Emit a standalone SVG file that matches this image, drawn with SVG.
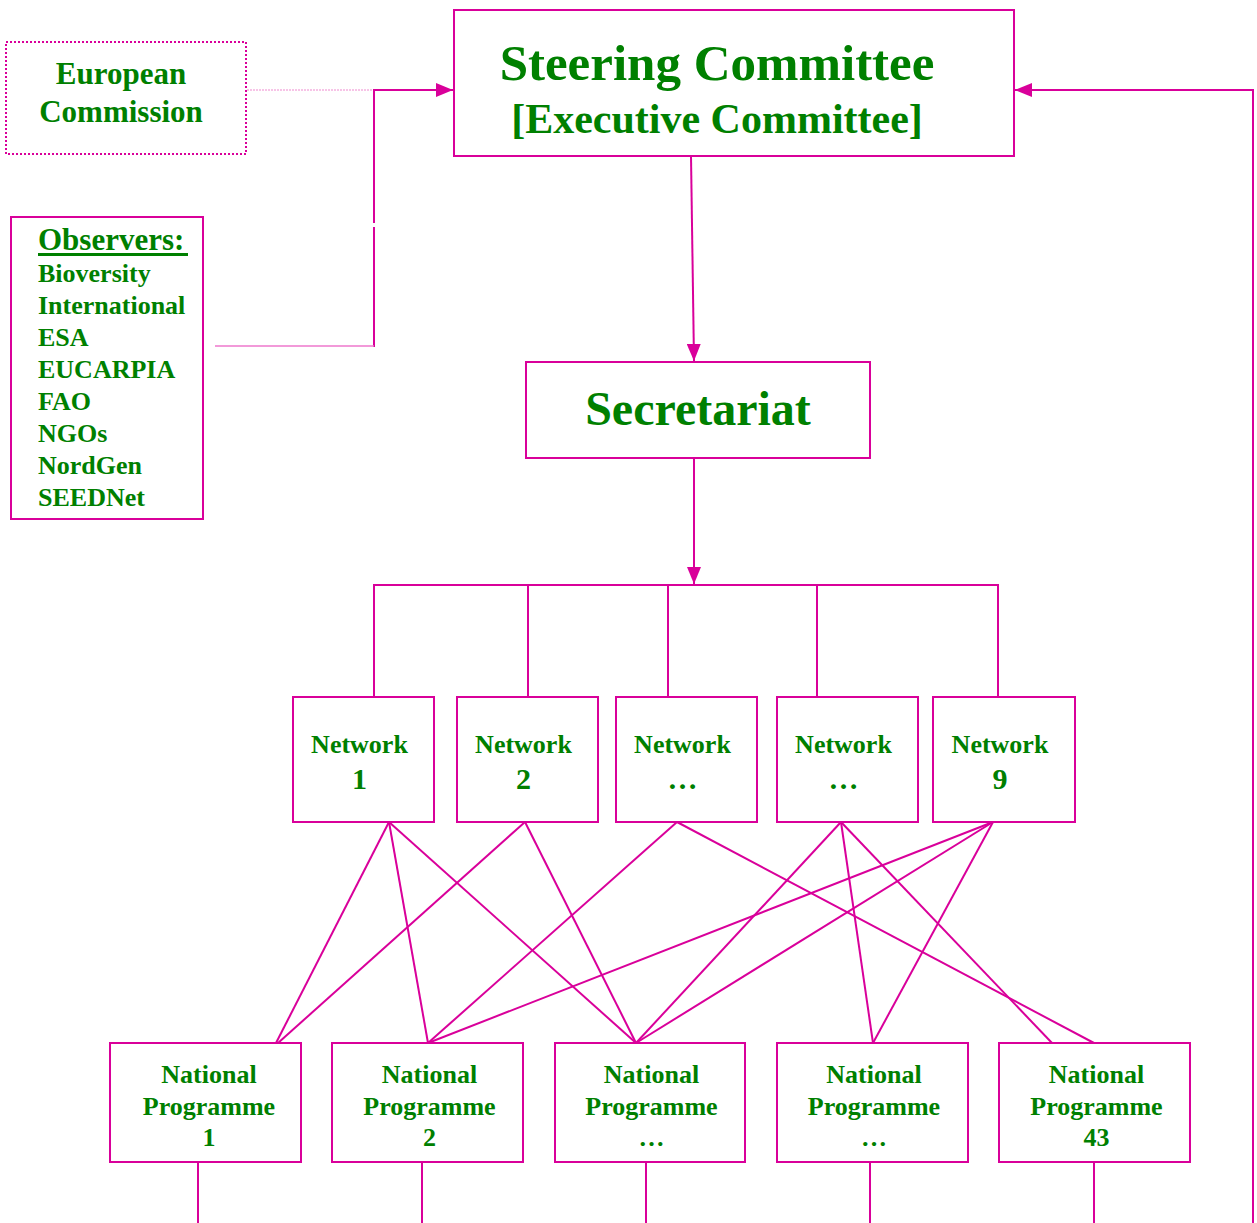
<svg xmlns="http://www.w3.org/2000/svg" width="1257" height="1223" viewBox="0 0 1257 1223">
<style>
.box{fill:#fff;stroke:#d9009a;stroke-width:2}
.ln{fill:none;stroke:#d9009a;stroke-width:2}
.t{font-family:"Liberation Serif","Times New Roman",serif;font-weight:bold;fill:#008000;text-anchor:middle}
.tl{font-family:"Liberation Serif","Times New Roman",serif;font-weight:bold;fill:#008000}
</style>
<defs>
<marker id="ah" markerUnits="userSpaceOnUse" markerWidth="17" markerHeight="14" refX="17" refY="7" orient="auto">
<path d="M0,0 L17,7 L0,14 Z" fill="#d9009a"/>
</marker>
</defs>
<g id="connectors">
<line x1="247" y1="90" x2="374" y2="90" stroke="#f08ad0" stroke-width="1.2" stroke-dasharray="2,1"/>
<line class="ln" x1="374" y1="90" x2="453" y2="90" marker-end="url(#ah)"/>
<line class="ln" x1="374" y1="89" x2="374" y2="223"/>
<line class="ln" x1="374" y1="227" x2="374" y2="347"/>
<line x1="215" y1="346" x2="374" y2="346" stroke="#ee77cc" stroke-width="1.5"/>
<line class="ln" x1="691" y1="156" x2="694" y2="361" marker-end="url(#ah)"/>
<line class="ln" x1="694" y1="458" x2="694" y2="584" marker-end="url(#ah)"/>
<polyline class="ln" points="374,697 374,585 998,585 998,697"/>
<line class="ln" x1="528" y1="585" x2="528" y2="697"/>
<line class="ln" x1="668" y1="585" x2="668" y2="697"/>
<line class="ln" x1="817" y1="585" x2="817" y2="697"/>
<g class="ln">
<line x1="389" y1="822" x2="276" y2="1043"/>
<line x1="389" y1="822" x2="428" y2="1043"/>
<line x1="389" y1="822" x2="636" y2="1043"/>
<line x1="525" y1="822" x2="278" y2="1043"/>
<line x1="525" y1="822" x2="636" y2="1043"/>
<line x1="677" y1="822" x2="428" y2="1043"/>
<line x1="677" y1="822" x2="1094" y2="1043"/>
<line x1="841" y1="822" x2="636" y2="1043"/>
<line x1="841" y1="822" x2="873" y2="1043"/>
<line x1="841" y1="822" x2="1052" y2="1043"/>
<line x1="993" y1="822" x2="428" y2="1043"/>
<line x1="993" y1="822" x2="636" y2="1043"/>
<line x1="993" y1="822" x2="873" y2="1043"/>
</g>
<line class="ln" x1="198" y1="1162" x2="198" y2="1223"/>
<line class="ln" x1="422" y1="1162" x2="422" y2="1223"/>
<line class="ln" x1="646" y1="1162" x2="646" y2="1223"/>
<line class="ln" x1="870" y1="1162" x2="870" y2="1223"/>
<line class="ln" x1="1094" y1="1162" x2="1094" y2="1223"/>
<polyline class="ln" points="1253,1223 1253,90 1015,90" marker-end="url(#ah)"/>
</g>
<g id="european-commission">
<rect x="6" y="42" width="240" height="112" fill="#fff" stroke="#d9009a" stroke-width="2" stroke-dasharray="2,2"/>
<text class="t" x="121" y="84" font-size="31">European</text>
<text class="t" x="121" y="122" font-size="31">Commission</text>
</g>
<g id="steering-committee">
<rect class="box" x="454" y="10" width="560" height="146"/>
<text class="t" x="717" y="80" font-size="51">Steering Committee</text>
<text class="t" x="717" y="133" font-size="42">[Executive Committee]</text>
</g>
<g id="observers">
<rect class="box" x="11" y="217" width="192" height="302"/>
<text class="tl" x="38" y="250" font-size="31">Observers:</text>
<rect x="38" y="253" width="150" height="3" fill="#008000"/>
<text class="tl" x="38" y="282" font-size="26">Bioversity</text>
<text class="tl" x="38" y="314" font-size="26">International</text>
<text class="tl" x="38" y="346" font-size="26">ESA</text>
<text class="tl" x="38" y="378" font-size="26">EUCARPIA</text>
<text class="tl" x="38" y="410" font-size="26">FAO</text>
<text class="tl" x="38" y="442" font-size="26">NGOs</text>
<text class="tl" x="38" y="474" font-size="26">NordGen</text>
<text class="tl" x="38" y="506" font-size="26">SEEDNet</text>
</g>
<g id="secretariat">
<rect class="box" x="526" y="362" width="344" height="96"/>
<text class="t" x="698" y="425" font-size="48">Secretariat</text>
</g>
<g id="network-1">
<rect class="box" x="293" y="697" width="141" height="125"/>
<text class="t" x="359.5" y="753" font-size="26">Network</text>
<text class="t" x="359.5" y="789" font-size="30">1</text>
</g>
<g id="network-2">
<rect class="box" x="457" y="697" width="141" height="125"/>
<text class="t" x="523.5" y="753" font-size="26">Network</text>
<text class="t" x="523.5" y="789" font-size="30">2</text>
</g>
<g id="network-3">
<rect class="box" x="616" y="697" width="141" height="125"/>
<text class="t" x="682.5" y="753" font-size="26">Network</text>
<text class="t" x="682.5" y="789" font-size="30">…</text>
</g>
<g id="network-4">
<rect class="box" x="777" y="697" width="141" height="125"/>
<text class="t" x="843.5" y="753" font-size="26">Network</text>
<text class="t" x="843.5" y="789" font-size="30">…</text>
</g>
<g id="network-9">
<rect class="box" x="933" y="697" width="142" height="125"/>
<text class="t" x="1000" y="753" font-size="26">Network</text>
<text class="t" x="1000" y="789" font-size="30">9</text>
</g>
<g id="np-1">
<rect class="box" x="110" y="1043" width="191" height="119"/>
<text class="t" x="209" y="1083" font-size="26">National</text>
<text class="t" x="209" y="1115" font-size="26">Programme</text>
<text class="t" x="209" y="1146" font-size="26">1</text>
</g>
<g id="np-2">
<rect class="box" x="332" y="1043" width="191" height="119"/>
<text class="t" x="429.5" y="1083" font-size="26">National</text>
<text class="t" x="429.5" y="1115" font-size="26">Programme</text>
<text class="t" x="429.5" y="1146" font-size="26">2</text>
</g>
<g id="np-3">
<rect class="box" x="555" y="1043" width="190" height="119"/>
<text class="t" x="651.5" y="1083" font-size="26">National</text>
<text class="t" x="651.5" y="1115" font-size="26">Programme</text>
<text class="t" x="651.5" y="1146" font-size="26">…</text>
</g>
<g id="np-4">
<rect class="box" x="777" y="1043" width="191" height="119"/>
<text class="t" x="874" y="1083" font-size="26">National</text>
<text class="t" x="874" y="1115" font-size="26">Programme</text>
<text class="t" x="874" y="1146" font-size="26">…</text>
</g>
<g id="np-43">
<rect class="box" x="999" y="1043" width="191" height="119"/>
<text class="t" x="1096.5" y="1083" font-size="26">National</text>
<text class="t" x="1096.5" y="1115" font-size="26">Programme</text>
<text class="t" x="1096.5" y="1146" font-size="26">43</text>
</g>
</svg>
